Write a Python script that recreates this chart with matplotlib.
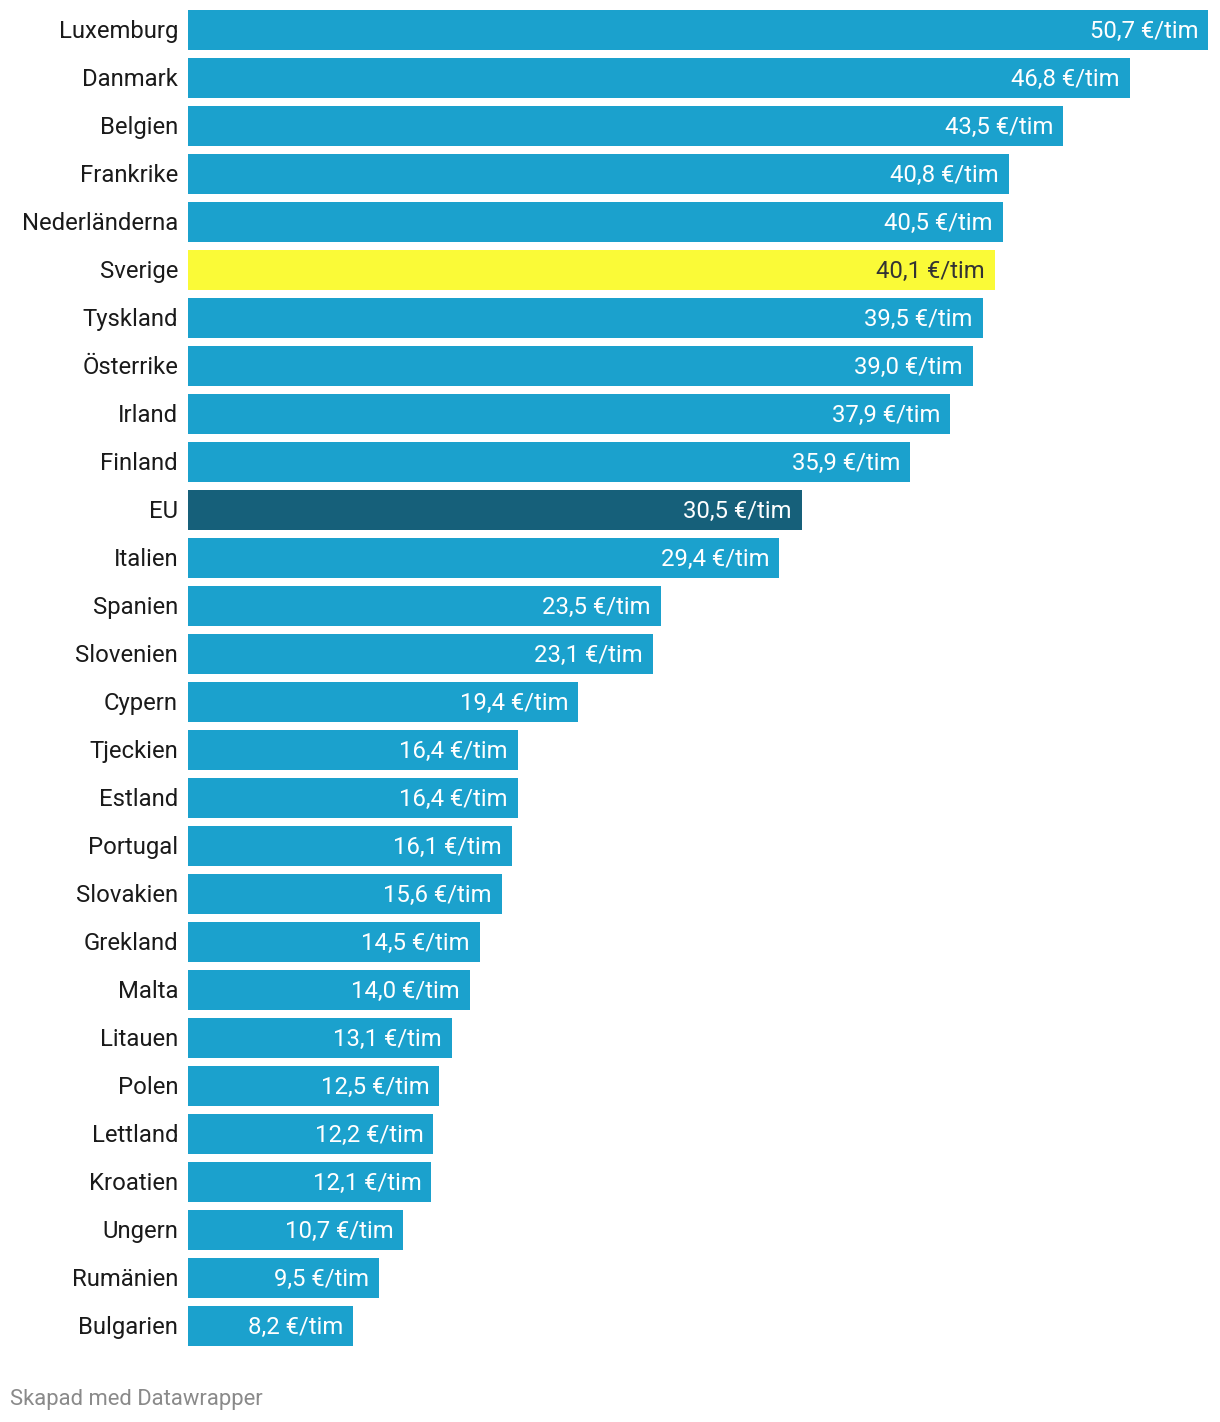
import matplotlib
matplotlib.use("Agg")
import matplotlib.pyplot as plt

countries = ["Luxemburg", "Danmark", "Belgien", "Frankrike", "Nederländerna", "Sverige",
             "Tyskland", "Österrike", "Irland", "Finland", "EU", "Italien", "Spanien",
             "Slovenien", "Cypern", "Tjeckien", "Estland", "Portugal", "Slovakien",
             "Grekland", "Malta", "Litauen", "Polen", "Lettland", "Kroatien", "Ungern",
             "Rumänien", "Bulgarien"]
values = [50.7, 46.8, 43.5, 40.8, 40.5, 40.1, 39.5, 39.0, 37.9, 35.9, 30.5, 29.4, 23.5,
          23.1, 19.4, 16.4, 16.4, 16.1, 15.6, 14.5, 14.0, 13.1, 12.5, 12.2, 12.1, 10.7,
          9.5, 8.2]

BLUE = "#1ba1cd"
DARK = "#16607a"
YELLOW = "#fafa37"

plt.rcParams['font.family'] = ['Roboto', 'DejaVu Sans']

W, H = 1220, 1422
fig = plt.figure(figsize=(W / 100, H / 100), dpi=100)
top_px, bot_px = 6, 1350
left_px, right_px = 188, 1208
ax = fig.add_axes([left_px / W, 1 - bot_px / H, (right_px - left_px) / W, (bot_px - top_px) / H])

n = len(countries)
ys = list(range(n))
colors = []
for c in countries:
    if c == "EU":
        colors.append(DARK)
    elif c == "Sverige":
        colors.append(YELLOW)
    else:
        colors.append(BLUE)

ax.barh(ys, values, height=40 / 48, color=colors, linewidth=0)
ax.set_xlim(0, max(values))
ax.set_ylim(n - 0.5, -0.5)
ax.axis("off")

pad = 10 / (right_px - left_px) * max(values)
for y, c, v, col in zip(ys, countries, values, colors):
    ax.text(-pad, y - 0.02, c, ha="right", va="center_baseline", fontsize=17.2, color="#1a1a1a")
    lab = f"{v:.1f}".replace(".", ",") + " €/tim"
    tc = "#333333" if col == YELLOW else "white"
    ax.text(v - pad, y - 0.02, lab, ha="right", va="center_baseline", fontsize=17.2, color=tc)

fig.text(10 / W, 1 - 1397 / H, "Skapad med Datawrapper", ha="left", va="center_baseline",
         fontsize=15.8, color="#8a8a8a")

fig.savefig("out.png", dpi=100, facecolor="white")
